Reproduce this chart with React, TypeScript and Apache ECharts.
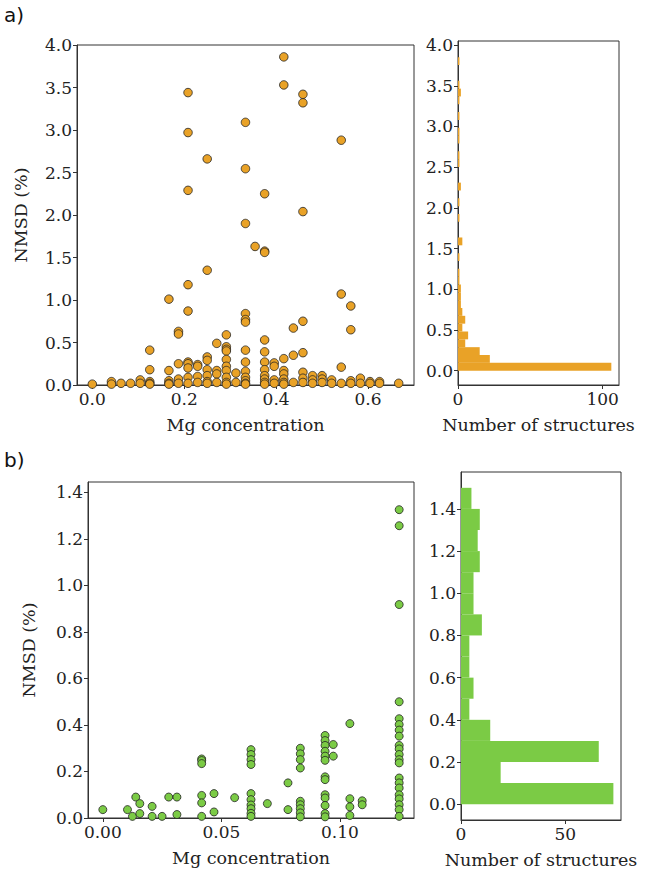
import React, { useEffect, useRef } from "react";
import * as echarts from "echarts";

// ---- Panel a: scatter (Mg concentration levels and NMSD values at each level)
const aMgLevels = [0.0, 0.0417, 0.0625, 0.0833, 0.1042, 0.125, 0.1667, 0.1875, 0.2083, 0.2292, 0.25, 0.2708, 0.2917, 0.3125, 0.3333, 0.3542, 0.375, 0.3958, 0.4167, 0.4375, 0.4583, 0.4792, 0.5, 0.5208, 0.5417, 0.5625, 0.5833, 0.6042, 0.625, 0.6667];
const aNmsdByLevel = [
  [0.01],
  [0.04, 0.01],
  [0.02],
  [0.02],
  [0.06, 0.02],
  [0.41, 0.18, 0.04, 0.02, 0.01],
  [1.01, 0.17, 0.05, 0.02, 0.01],
  [0.63, 0.6, 0.25, 0.07, 0.02],
  [3.44, 2.97, 2.29, 1.18, 0.87, 0.27, 0.25, 0.2, 0.09, 0.02],
  [0.24, 0.22, 0.1, 0.03],
  [2.66, 1.35, 0.33, 0.29, 0.18, 0.11, 0.04, 0.02],
  [0.49, 0.17, 0.13, 0.03],
  [0.59, 0.45, 0.42, 0.4, 0.3, 0.22, 0.17, 0.09, 0.03, 0.01],
  [0.14, 0.03],
  [3.09, 2.545, 1.9, 0.84, 0.77, 0.74, 0.41, 0.27, 0.16, 0.09, 0.05, 0.02, 0.01],
  [1.63],
  [2.25, 1.575, 1.56, 0.53, 0.39, 0.27, 0.18, 0.11, 0.07, 0.03, 0.01],
  [0.26, 0.22, 0.06, 0.02],
  [3.86, 3.53, 0.31, 0.17, 0.13, 0.07, 0.03, 0.01],
  [0.67, 0.35, 0.03],
  [3.42, 3.32, 2.04, 0.75, 0.38, 0.15, 0.08, 0.03],
  [0.11, 0.06, 0.02],
  [0.11, 0.07, 0.03],
  [0.06, 0.02],
  [2.88, 1.07, 0.21, 0.02],
  [0.93, 0.65, 0.05, 0.02],
  [0.08, 0.02],
  [0.04, 0.02],
  [0.04, 0.02],
  [0.02],
];

// ---- Panel a: histogram of NMSD (bin width, counts per bin starting at 0)
const aBinWidth = 0.09625;
const aHistCounts = [106, 22, 15, 5, 7, 3, 5, 3, 2, 2, 2, 1, 1, 0, 1, 0, 3, 0, 0, 1, 0, 1, 0, 2, 0, 0, 1, 1, 0, 1, 1, 0, 1, 0, 1, 2, 1, 0, 0, 1];

// ---- Panel b: scatter
const bMgLevels = [0.0, 0.0104, 0.0125, 0.0139, 0.0156, 0.0208, 0.025, 0.0278, 0.03125, 0.0417, 0.0469, 0.0556, 0.0625, 0.0694, 0.0781, 0.0833, 0.09375, 0.0972, 0.1042, 0.1094, 0.125];
const bNmsdByLevel = [
  [0.036],
  [0.036],
  [0.007],
  [0.09],
  [0.062, 0.019],
  [0.05, 0.007],
  [0.007],
  [0.09],
  [0.09, 0.015],
  [0.254, 0.247, 0.234, 0.097, 0.065, 0.007],
  [0.105, 0.026],
  [0.0875],
  [0.294, 0.273, 0.251, 0.23, 0.105, 0.079, 0.056, 0.04, 0.02, 0.007],
  [0.062],
  [0.151, 0.036],
  [0.3, 0.276, 0.251, 0.215, 0.072, 0.057, 0.04, 0.022, 0.005],
  [0.355, 0.333, 0.312, 0.287, 0.266, 0.248, 0.177, 0.165, 0.1, 0.086, 0.054, 0.019, 0.005],
  [0.316, 0.266],
  [0.406, 0.083, 0.048, 0.011],
  [0.074, 0.057],
  [1.326, 1.257, 0.918, 0.5, 0.427, 0.402, 0.378, 0.352, 0.312, 0.297, 0.273, 0.251, 0.237, 0.172, 0.151, 0.129, 0.1, 0.082, 0.057, 0.036, 0.007],
];

// ---- Panel b: histogram
const bBinWidth = 0.1;
const bHistCounts = [73, 19, 66, 14, 4, 6, 4, 4, 10, 6, 6, 9, 8, 9, 5];

// ---- tick labels
const aScatterXTicks = [0, 0.2, 0.4, 0.6];
const aYTicks = [0, 0.5, 1.0, 1.5, 2.0, 2.5, 3.0, 3.5, 4.0];
const aHistXTicks = [0, 100];
const bScatterXTicks = [0, 0.05, 0.1];
const bYTicks = [0, 0.2, 0.4, 0.6, 0.8, 1.0, 1.2, 1.4];
const bHistXTicks = [0, 50];

const ORANGE = "#E9A227";
const GREEN = "#7BCB45";
const FONT = "DejaVu Serif";
const AXIS_COLOR = "#333";
const TEXT_COLOR = "#222";

function toPairs(levels: number[], byLevel: number[][]) {
  const out: number[][] = [];
  levels.forEach((x, i) => byLevel[i].forEach((y) => out.push([x, y])));
  return out;
}

function toBins(width: number, counts: number[]) {
  return counts.map((c, i) => [i * width, (i + 1) * width, c]);
}

function valueAxis(gridIndex: number, min: number, max: number, ticks: number[], digits: number, extra: any = {}) {
  return {
    type: "value",
    gridIndex,
    min,
    max,
    axisLine: { show: true, onZero: false, lineStyle: { color: AXIS_COLOR, width: 1 } },
    axisTick: { show: true, length: 4, customValues: ticks, lineStyle: { color: AXIS_COLOR, width: 1 } },
    axisLabel: {
      show: true,
      customValues: ticks,
      formatter: (v: number) => v.toFixed(digits),
      color: TEXT_COLOR,
      fontFamily: FONT,
      fontSize: 17,
      margin: 5,
    },
    splitLine: { show: false },
    nameTextStyle: { color: TEXT_COLOR, fontFamily: FONT, fontSize: 17.5 },
    ...extra,
  };
}

function histRender(color: string) {
  return (params: any, api: any) => {
    const y0 = api.value(0);
    const y1 = api.value(1);
    const c = api.value(2);
    if (!c) return null;
    const p0 = api.coord([0, y0]);
    const p1 = api.coord([c, y1]);
    return {
      type: "rect",
      shape: { x: p0[0], y: p1[1], width: p1[0] - p0[0], height: p0[1] - p1[1] },
      style: { fill: color },
    };
  };
}

export default function App() {
  const ref = useRef<HTMLDivElement>(null);
  useEffect(() => {
    document.body.style.margin = "0";
    if (!ref.current) return;
    const chart = echarts.init(ref.current, null, { renderer: "svg" });
    const xName = (name: string, gap: number) => ({ name, nameLocation: "middle", nameGap: gap });
    const yName = (name: string, gap: number) => ({ name, nameLocation: "middle", nameGap: gap, nameRotate: 90 });
    chart.setOption({
      animation: false,
      backgroundColor: "#fff",
      grid: [
        { left: 77, top: 45, width: 337, height: 340, show: true, borderColor: AXIS_COLOR, borderWidth: 1, containLabel: false },
        { left: 458, top: 41, width: 161, height: 344, show: true, borderColor: AXIS_COLOR, borderWidth: 1, containLabel: false },
        { left: 88, top: 482, width: 326, height: 336, show: true, borderColor: AXIS_COLOR, borderWidth: 1, containLabel: false },
        { left: 461, top: 472, width: 160, height: 348, show: true, borderColor: AXIS_COLOR, borderWidth: 1, containLabel: false },
      ],
      xAxis: [
        valueAxis(0, -0.0333, 0.7, aScatterXTicks, 1, xName("Mg concentration", 31)),
        valueAxis(1, 0, 111.3, aHistXTicks, 0, xName("Number of structures", 31)),
        valueAxis(2, -0.00625, 0.13125, bScatterXTicks, 2, xName("Mg concentration", 31)),
        valueAxis(3, 0, 76.65, bHistXTicks, 0, xName("Number of structures", 31)),
      ],
      yAxis: [
        valueAxis(0, 0, 4.0, aYTicks, 1, yName("NMSD (%)", 47)),
        valueAxis(1, -0.176, 4.05, aYTicks, 1),
        valueAxis(2, 0, 1.445, bYTicks, 1, yName("NMSD (%)", 50)),
        valueAxis(3, -0.075, 1.575, bYTicks, 1),
      ],
      graphic: [
        { type: "text", left: 4, top: 5, style: { text: "a)", font: "20px 'DejaVu Sans'", fill: "#111" } },
        { type: "text", left: 4, top: 450, style: { text: "b)", font: "20px 'DejaVu Sans'", fill: "#111" } },
      ],
      series: [
        {
          type: "scatter",
          xAxisIndex: 0,
          yAxisIndex: 0,
          data: toPairs(aMgLevels, aNmsdByLevel),
          symbolSize: 8.5,
          itemStyle: { color: ORANGE, borderColor: "#222", borderWidth: 0.8, opacity: 1 },
          clip: false,
        },
        {
          type: "custom",
          xAxisIndex: 1,
          yAxisIndex: 1,
          data: toBins(aBinWidth, aHistCounts),
          encode: { x: 2, y: [0, 1] },
          renderItem: histRender(ORANGE),
        },
        {
          type: "scatter",
          xAxisIndex: 2,
          yAxisIndex: 2,
          data: toPairs(bMgLevels, bNmsdByLevel),
          symbolSize: 8,
          itemStyle: { color: GREEN, borderColor: "#222", borderWidth: 0.8, opacity: 1 },
          clip: false,
        },
        {
          type: "custom",
          xAxisIndex: 3,
          yAxisIndex: 3,
          data: toBins(bBinWidth, bHistCounts),
          encode: { x: 2, y: [0, 1] },
          renderItem: histRender(GREEN),
        },
      ],
    });
    return () => chart.dispose();
  }, []);
  return <div ref={ref} style={{ width: 653, height: 871 }} />;
}
